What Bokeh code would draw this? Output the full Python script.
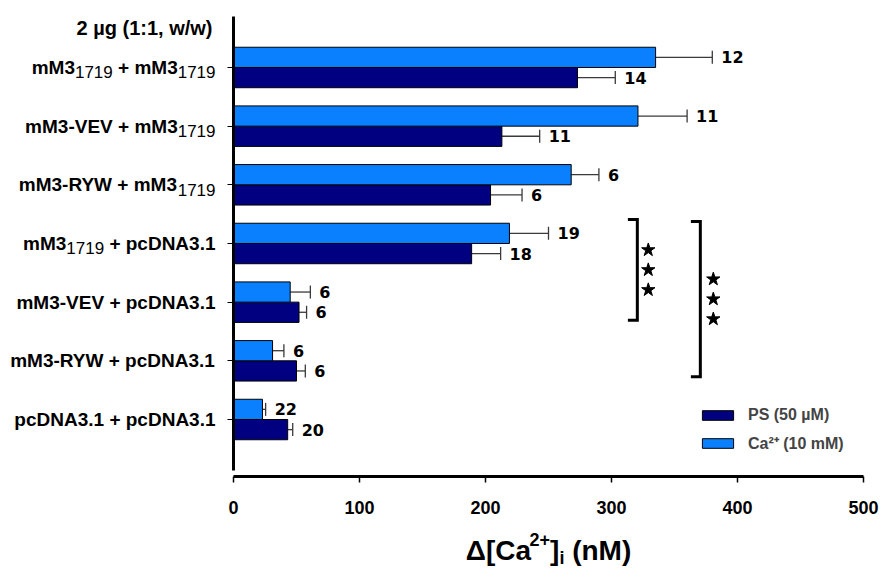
from bokeh.plotting import figure
from bokeh.models import (Range1d, FixedTicker, Whisker, TeeHead, ColumnDataSource, Legend,
                          LegendItem)
from bokeh.embed import file_html
from bokeh.resources import INLINE
from bokeh.core.properties import value

# ---------------- data ----------------
# category labels, top to bottom; "_" prefix marks a subscript piece
label_pieces = [
    ["mM3", "_1719", " + mM3", "_1719"],
    ["mM3-VEV + mM3", "_1719"],
    ["mM3-RYW + mM3", "_1719"],
    ["mM3", "_1719", " + pcDNA3.1"],
    ["mM3-VEV + pcDNA3.1"],
    ["mM3-RYW + pcDNA3.1"],
    ["pcDNA3.1 + pcDNA3.1"],
]
ps_mean = [273, 213, 204, 189, 52, 50, 43]
ps_err = [30, 30, 25, 23, 6, 7, 4]
ps_n = [14, 11, 6, 18, 6, 6, 20]
ca_mean = [335, 321, 268, 219, 45, 31, 23]
ca_err = [45, 39, 22, 31, 16, 9, 2.5]
ca_n = [12, 11, 6, 19, 6, 6, 22]
x_ticks = [0, 100, 200, 300, 400, 500]
series_labels = ["PS (50 µM)", "Ca²⁺ (10 mM)"]
panel_title = "2 µg (1:1, w/w)"
axis_title_pieces = [("Δ[Ca", "main"), ("2+", "sup"), ("]", "main"), ("i", "sub"), (" (nM)", "main")]
# significance brackets: (x, top, bottom)
brackets = [(320.5, 4.41, 2.69), (370.5, 4.375, 1.73)]
stars_per_bracket = 3

# ---------------- style ----------------
DARK = "#000080"
LIGHT = "#0a80ff"
ERR = "#3a3a3a"
BAR_H = 0.345
FONT = "Liberation Sans"
PX_X = 1.26      # px per x unit
PX_Y = 58.67     # px per row
X0_PX = 233      # x=0 position
AX_PX = 476      # x axis line position


def vy(px):
    return 0.0284 + (AX_PX - px) / PX_Y


BOLD_W = {' ': .278, '+': .584, '-': .333, '.': .278, '1': .556, '2': .556, '3': .556, '7': .556,
          '9': .556, 'A': .722, 'D': .722, 'E': .667, 'M': .833, 'N': .722, 'R': .722, 'V': .667,
          'W': .944, 'Y': .667, 'c': .556, 'm': .889, 'p': .611, 'Δ': .667, '[': .333, ']': .333,
          'C': .722, 'a': .556, 'i': .278, '(': .333, ')': .333, 'n': .611}
REG_W = {'1': .556, '7': .556, '9': .556, ' ': .278}


def text_w(s, size, bold=True):
    tbl = BOLD_W if bold else REG_W
    return sum(tbl.get(c, 0.6) for c in s) * size


def lead_w(s, size, bold=True):
    return text_w(s[:len(s) - len(s.lstrip())], size, bold)


n_rows = len(label_pieces)
pos = [n_rows - i for i in range(n_rows)]

W, H = 880, 569
p = figure(width=W, height=H, output_backend="svg", toolbar_location=None,
           x_range=Range1d(-X0_PX / PX_X, (W - X0_PX) / PX_X),
           y_range=Range1d(vy(H), vy(0)),
           min_border=0)
p.outline_line_color = None
p.xgrid.visible = False
p.ygrid.visible = False

# x axis
xa = p.xaxis[0]
xa.fixed_location = vy(AX_PX)
xa.ticker = FixedTicker(ticks=x_ticks)
xa.bounds = (0, 500)
xa.axis_line_width = 3
xa.axis_line_color = "black"
xa.major_tick_out = 6
xa.major_tick_in = 0
xa.major_tick_line_width = 1.5
xa.minor_tick_out = 0
xa.minor_tick_in = 0
xa.major_label_standoff = 18
xa.major_label_text_font = FONT
xa.major_label_text_font_style = "bold"
xa.major_label_text_font_size = "18px"
xa.major_label_text_color = "black"

# y axis (spine + ticks; labels drawn separately for subscripts)
ya = p.yaxis[0]
ya.fixed_location = 0
ya.ticker = FixedTicker(ticks=pos)
ya.bounds = (vy(470), vy(16))
ya.axis_line_width = 3
ya.axis_line_color = "black"
ya.major_tick_out = 6
ya.major_tick_in = 0
ya.major_tick_line_width = 1
ya.minor_tick_out = 0
ya.minor_tick_in = 0
ya.major_label_overrides = {v: "" for v in pos}

# bars
dark_src = ColumnDataSource(dict(y=[v - BAR_H / 2 for v in pos], right=ps_mean,
                                 upper=[m + e for m, e in zip(ps_mean, ps_err)],
                                 n=[str(n) for n in ps_n]))
light_src = ColumnDataSource(dict(y=[v + BAR_H / 2 for v in pos], right=ca_mean,
                                  upper=[m + e for m, e in zip(ca_mean, ca_err)],
                                  n=[str(n) for n in ca_n]))
r_dark = p.hbar(y="y", left=0, right="right", height=BAR_H, source=dark_src,
                fill_color=DARK, line_color="black", line_width=1)
r_light = p.hbar(y="y", left=0, right="right", height=BAR_H, source=light_src,
                 fill_color=LIGHT, line_color="black", line_width=1)

for src in (dark_src, light_src):
    p.add_layout(Whisker(source=src, base="y", lower="right", upper="upper", dimension="width",
                         line_color=ERR, line_width=1.3, lower_head=None,
                         upper_head=TeeHead(size=13, line_color=ERR, line_width=1.3)))
    p.text(x="upper", y="y", text="n", source=src, x_offset=9, text_baseline="middle",
           text_font=value("DejaVu Sans"), text_font_style="bold", text_font_size="16px",
           text_color="black")

# category labels with subscripts
main = dict(x=[], y=[], xo=[], text=[])
sub = dict(x=[], y=[], xo=[], text=[])
MAIN_SIZE, SUB_SIZE = 19, 17
for v, pieces in zip(pos, label_pieces):
    right = -18.0
    for pc in reversed(pieces):
        is_sub = pc.startswith("_")
        t = pc[1:] if is_sub else pc
        size = SUB_SIZE if is_sub else MAIN_SIZE
        w = text_w(t, size, bold=not is_sub)
        left = right - w
        d = sub if is_sub else main
        d["x"].append(0)
        d["y"].append(v)
        d["xo"].append(left + lead_w(t, size, bold=not is_sub))
        d["text"].append(t.strip())
        right = left
p.text(x="x", y="y", text="text", x_offset="xo", source=ColumnDataSource(main),
       text_baseline="middle", text_align="left", text_font=value(FONT),
       text_font_style="bold", text_font_size=f"{MAIN_SIZE}px", text_color="black")
p.text(x="x", y="y", text="text", x_offset="xo", y_offset=5, source=ColumnDataSource(sub),
       text_baseline="middle", text_align="left", text_font=value(FONT),
       text_font_style="normal", text_font_size=f"{SUB_SIZE}px", text_color="black")

# panel title
p.text(x=[0], y=[vy(27)], text=[panel_title], x_offset=-21, text_align="right",
       text_baseline="middle", text_font=value(FONT), text_font_style="bold",
       text_font_size="20px", text_color="black")

# x axis title with super/subscripts
sizes = {"main": 28, "sup": 18, "sub": 18}
yoffs = {"main": 0, "sup": -11, "sub": 7}
total = sum(text_w(t, sizes[k]) for t, k in axis_title_pieces)
cur = -total / 2
for t, k in axis_title_pieces:
    p.text(x=[250], y=[vy(550)], x_offset=cur + lead_w(t, sizes[k]), y_offset=yoffs[k],
           text=[t.strip()], text_align="left", text_baseline="middle", text_font=value(FONT),
           text_font_style="bold", text_font_size=f"{sizes[k]}px", text_color="black")
    cur += text_w(t, sizes[k])

# significance brackets and stars
arms = [7.5, 7.5]
star_dx = [8.7, 10.3]
xs, ys, sx, sy = [], [], [], []
for (bx, top, bot), arm, dx in zip(brackets, arms, star_dx):
    xs.append([bx - arm, bx, bx, bx - arm])
    ys.append([top, top, bot, bot])
    mid = (top + bot) / 2
    for k in range(stars_per_bracket):
        sx.append(bx + dx)
        sy.append(mid + (1 - k) * 0.34)
p.multi_line(xs=xs, ys=ys, line_color="black", line_width=3, line_join="miter")
p.scatter(x=sx, y=sy, marker="star", size=14, fill_color="black", line_color="black")

# legend
legend = Legend(items=[LegendItem(label=series_labels[0], renderers=[r_dark]),
                       LegendItem(label=series_labels[1], renderers=[r_light])],
                location=(698, 115), padding=0, margin=0, border_line_color=None,
                background_fill_alpha=0, glyph_width=39, glyph_height=12, label_standoff=11,
                spacing=7, label_height=20, label_text_font=FONT, label_text_font_style="bold",
                label_text_font_size="16px")
p.add_layout(legend)

open("out.html", "w").write(file_html(p, INLINE))
